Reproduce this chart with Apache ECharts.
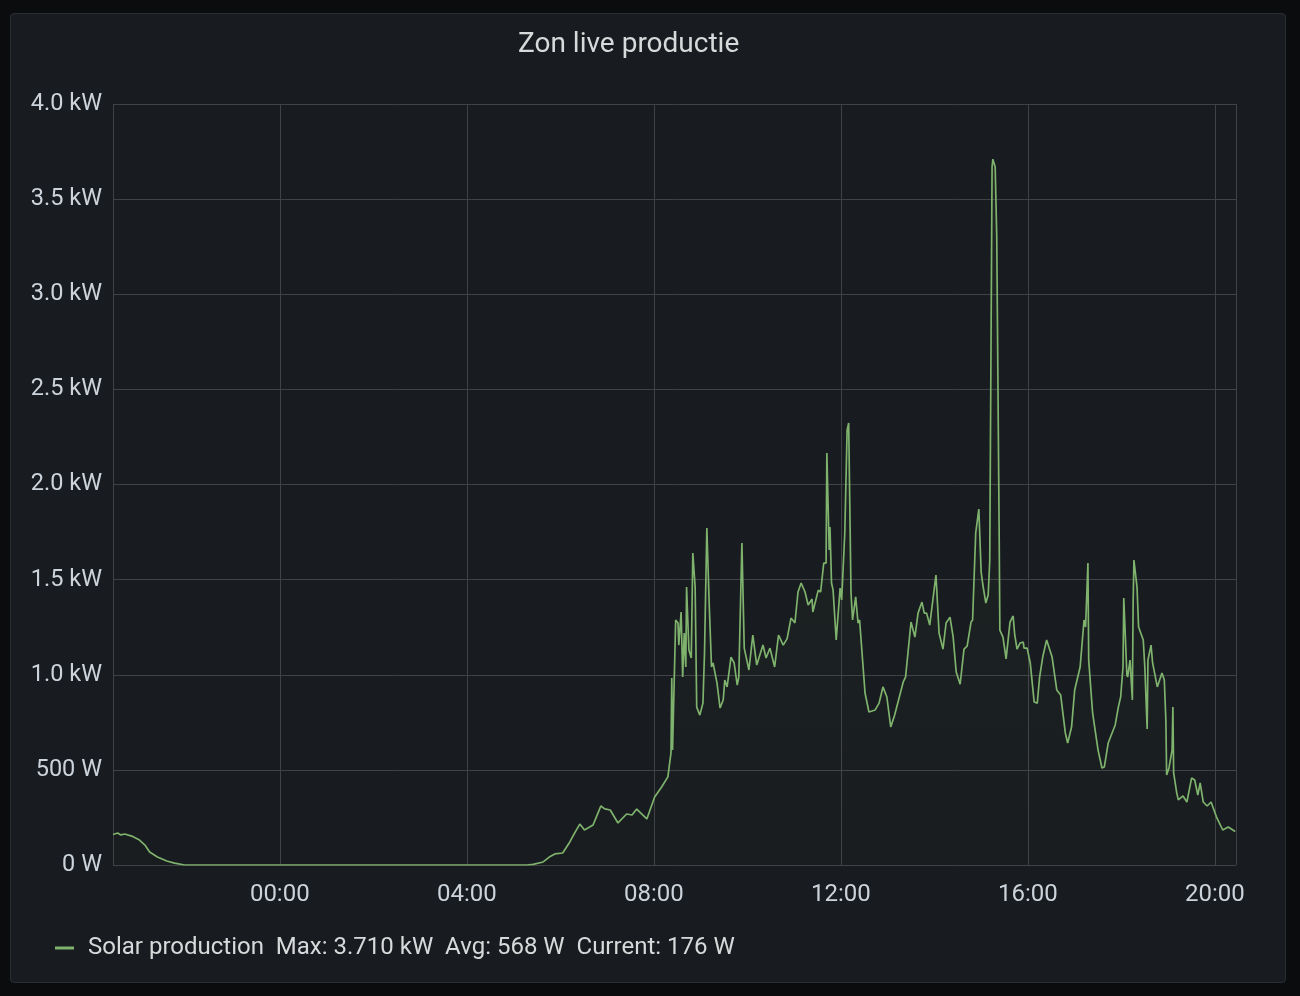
<!DOCTYPE html>
<html>
<head>
<meta charset="utf-8">
<script src="https://cdn.jsdelivr.net/npm/echarts@6/dist/echarts.min.js"></script>
<style>
  html, body { margin: 0; padding: 0; background: #0b0c0e; width: 1300px; height: 996px; overflow: hidden; }
  #panel { position: absolute; left: 10px; top: 13px; width: 1274px; height: 968px; background: #181b1f; border: 1px solid #2a2d32; border-radius: 4px; }
  #chart { position: absolute; left: 0; top: 0; width: 1300px; height: 996px; }
</style>
</head>
<body>
<div id="panel"></div>
<div id="chart"></div>
<script>
// Clock times (24h window starting previous evening) and solar production in W
const times = [
  "20:26","20:32","20:36","20:41","20:50","21:00","21:07","21:13","21:23","21:35","21:45","21:58",
  "23:00","01:00","03:00","05:00","05:17","05:25","05:38","05:47","05:53","06:03","06:12","06:19",
  "06:25","06:31","06:42","06:48","06:52","06:57","07:04","07:14","07:25","07:32","07:38","07:51",
  "08:01","08:10","08:18","08:22","08:23","08:24","08:28","08:31","08:32","08:35","08:37","08:39",
  "08:41","08:42","08:45","08:48","08:50","08:53","08:55","08:59","09:03","09:05","09:08","09:11",
  "09:14","09:16","09:21","09:25","09:29","09:31","09:34","09:39","09:43","09:47","09:49","09:53",
  "09:56","10:02","10:07","10:12","10:20","10:24","10:29","10:35","10:40","10:46","10:51","10:56",
  "11:01","11:05","11:09","11:14","11:18","11:23","11:24","11:31","11:34","11:38","11:41","11:42",
  "11:45","11:46","11:48","11:50","11:54","11:55","11:59","12:01","12:05","12:08","12:10","12:13",
  "12:15","12:19","12:22","12:24","12:31","12:36","12:44","12:49","12:54","12:59","13:04","13:09",
  "13:14","13:20","13:23","13:30","13:35","13:39","13:44","13:47","13:50","13:54","13:58","14:02",
  "14:06","14:11","14:15","14:20","14:24","14:28","14:33","14:38","14:42","14:47","14:49","14:53",
  "14:57","15:00","15:02","15:06","15:09","15:11","15:14","15:15","15:18","15:20","15:23","15:24",
  "15:28","15:32","15:37","15:41","15:43","15:46","15:50","15:54","15:55","15:59","16:03","16:08",
  "16:12","16:15","16:19","16:24","16:31","16:37","16:42","16:48","16:51","16:56","17:00","17:07",
  "17:12","17:14","17:17","17:18","17:23","17:30","17:35","17:38","17:43","17:52","17:56","17:59",
  "18:02","18:03","18:05","18:07","18:08","18:11","18:14","18:15","18:16","18:20","18:22","18:28",
  "18:30","18:33","18:34","18:38","18:40","18:46","18:52","18:55","18:57","18:58","19:01","19:05",
  "19:06","19:07","19:11","19:13","19:19","19:24","19:30","19:34","19:38","19:41","19:45","19:50",
  "19:55","20:02","20:10","20:17","20:26"
];
const production = [
  160,168,158,163,152,131,105,68,42,21,10,0,
  0,0,0,0,0,3,16,45,58,63,120,173,
  215,184,210,270,310,295,289,221,268,263,294,242,
  357,410,463,589,983,604,1288,1272,1156,1330,988,1219,
  1041,1461,1130,1088,1640,1461,830,788,851,1114,1771,1377,
  1041,1062,957,825,867,972,936,1093,1062,946,988,1692,
  1140,1025,1209,1051,1156,1088,1140,1041,1209,1156,1190,1298,
  1272,1435,1482,1435,1367,1398,1330,1445,1435,1587,1587,2165,
  1656,1777,1482,1445,1183,1183,1456,1393,1745,2286,2323,1430,
  1288,1409,1272,1288,904,804,815,851,936,883,725,788,
  867,962,988,1277,1198,1324,1382,1324,1324,1261,1393,1524,
  1219,1135,1272,1303,1200,1014,950,1135,1150,1277,1288,1745,
  1871,1540,1477,1377,1419,1598,3669,3710,3669,3306,1798,1235,
  1198,1083,1277,1309,1214,1135,1167,1172,1140,1140,1062,857,
  851,988,1093,1183,1093,920,894,694,641,725,920,1041,
  1288,1251,1587,1077,799,604,510,515,641,736,830,883,
  1041,1403,1393,999,988,1077,867,1377,1603,1461,1251,1183,
  1041,715,1077,1156,1062,936,1009,972,762,473,510,604,
  830,484,378,342,363,331,457,447,368,431,331,310,
  331,252,184,200,176
];
const yTicks = [0, 500, 1000, 1500, 2000, 2500, 3000, 3500, 4000];
const seriesName = "Solar production";
const legendStats = ["Max: 3.710 kW", "Avg: 568 W", "Current: 176 W"];
const titleText = "Zon live productie";

// Build timestamps: the window starts the previous evening, day rolls over when clock goes back
const startDay = [2021, 5, 14];
let day = 0, prev = -1;
const data = times.map((t, i) => {
  const [h, m] = t.split(":").map(Number);
  const mins = h * 60 + m;
  if (prev >= 0 && mins < prev) day += 1;
  prev = mins;
  return [new Date(startDay[0], startDay[1], startDay[2] + day, h, m).getTime(), production[i]];
});
const xMin = new Date(startDay[0], startDay[1], startDay[2], 20, 26).getTime();
const xMax = new Date(startDay[0], startDay[1], startDay[2] + 1, 20, 27).getTime();

const chart = echarts.init(document.getElementById('chart'), null, { renderer: 'canvas' });
const font = 'Roboto, "Noto Sans", sans-serif';
const textColor = '#ccd3da';
const gridColor = '#404246';

chart.setOption({
  backgroundColor: 'transparent',
  animation: false,
  textStyle: { fontFamily: font },
  title: {
    text: titleText,
    left: 513, top: 26,
    textStyle: { color: '#d8d9da', fontSize: 28, fontWeight: 'normal', fontFamily: font }
  },
  legend: {
    left: 50, top: 931,
    icon: 'rect', itemWidth: 19, itemHeight: 3, itemGap: 10,
    textStyle: { color: '#d8d9da', fontSize: 24, fontFamily: font, padding: [0, 0, 0, 9] },
    formatter: (name) => name + '  ' + legendStats.join('  '),
    data: [seriesName]
  },
  grid: { left: 113, right: 64, top: 104, bottom: 131, containLabel: false },
  xAxis: {
    type: 'time',
    min: xMin, max: xMax,
    minInterval: 4 * 3600 * 1000, maxInterval: 4 * 3600 * 1000,
    axisLine: { show: false },
    axisTick: { show: false },
    splitLine: { show: true, lineStyle: { color: gridColor, width: 1 } },
    axisLabel: {
      color: textColor, fontSize: 24, fontFamily: font, margin: 18,
      formatter: '{HH}:{mm}', hideOverlap: false
    }
  },
  yAxis: {
    type: 'value',
    min: yTicks[0], max: yTicks[yTicks.length - 1], interval: 500,
    axisLine: { show: false },
    axisTick: { show: false },
    splitLine: { show: true, lineStyle: { color: gridColor, width: 1 } },
    axisLabel: {
      color: textColor, fontSize: 23.5, fontFamily: font, margin: 11,
      padding: [4, 0, 0, 0],
      formatter: (v) => v === 0 ? '0 W' : (v < 1000 ? v + ' W' : (v / 1000).toFixed(1) + ' kW')
    }
  },
  series: [{
    name: seriesName,
    type: 'line',
    data: data,
    showSymbol: false,
    smooth: false,
    lineStyle: { color: '#7eb26d', width: 1.7 },
    itemStyle: { color: '#7eb26d' },
    areaStyle: {
      color: new echarts.graphic.LinearGradient(0, 0, 0, 1, [
        { offset: 0, color: 'rgba(126,178,109,0.10)' },
        { offset: 1, color: 'rgba(126,178,109,0.02)' }
      ])
    }
  }]
});
</script>
</body>
</html>
